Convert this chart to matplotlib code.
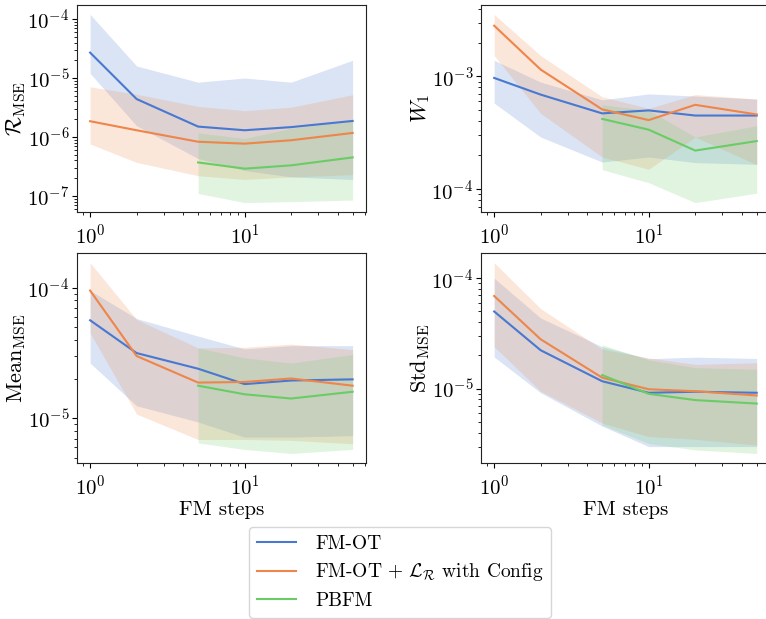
import numpy as np
import matplotlib
matplotlib.use("Agg")
import matplotlib.pyplot as plt

plt.rcParams["font.family"] = "serif"
plt.rcParams["font.serif"] = ["cmr10", "DejaVu Serif"]
plt.rcParams["mathtext.fontset"] = "cm"
plt.rcParams["axes.formatter.use_mathtext"] = True
plt.rcParams["axes.unicode_minus"] = False

steps = [1, 2, 5, 10, 20, 50]
steps_pbfm = [5, 10, 20, 50]

labels = ["FM-OT", r"FM-OT $+\ \mathcal{L}_{\mathcal{R}}$ with Config", "PBFM"]
colors = ["#4878d0", "#ee854a", "#6acc64"]

# R_MSE
r_ot = [2.7e-5, 4.4e-6, 1.5e-6, 1.3e-6, 1.47e-6, 1.87e-6]
r_ot_hi = [1.2e-4, 1.6e-5, 8.5e-6, 1.0e-5, 8.5e-6, 2.0e-5]
r_ot_lo = [1.2e-5, 1.55e-6, 4.3e-7, 2.7e-7, 2.1e-7, 1.9e-7]
r_cfg = [1.85e-6, 1.3e-6, 8.3e-7, 7.7e-7, 8.8e-7, 1.17e-6]
r_cfg_hi = [7.1e-6, 5.3e-6, 3.3e-6, 2.8e-6, 3.2e-6, 5.2e-6]
r_cfg_lo = [7.6e-7, 3.7e-7, 2.2e-7, 1.9e-7, 2.1e-7, 2.3e-7]
r_pb = [3.7e-7, 2.9e-7, 3.3e-7, 4.5e-7]
r_pb_hi = [1.17e-6, 9.4e-7, 1.4e-6, 1.9e-6]
r_pb_lo = [1.1e-7, 7.7e-8, 8.0e-8, 8.5e-8]

# W1
w_ot = [9.7e-4, 6.9e-4, 4.7e-4, 5.0e-4, 4.5e-4, 4.5e-4]
w_ot_hi = [1.39e-3, 8.9e-4, 6.2e-4, 7.0e-4, 6.7e-4, 6.3e-4]
w_ot_lo = [5.8e-4, 2.9e-4, 1.74e-4, 1.93e-4, 1.72e-4, 1.66e-4]
w_cfg = [2.82e-3, 1.15e-3, 5.1e-4, 4.1e-4, 5.6e-4, 4.6e-4]
w_cfg_hi = [3.55e-3, 1.53e-3, 6.6e-4, 5.2e-4, 6.9e-4, 6.3e-4]
w_cfg_lo = [1.53e-3, 4.7e-4, 1.93e-4, 1.5e-4, 2.9e-4, 1.65e-4]
w_pb = [4.2e-4, 3.37e-4, 2.2e-4, 2.67e-4]
w_pb_hi = [5.6e-4, 5.0e-4, 2.9e-4, 3.65e-4]
w_pb_lo = [1.49e-4, 1.14e-4, 7.6e-5, 9.2e-5]

# Mean_MSE
m_ot = [5.63e-5, 3.16e-5, 2.4e-5, 1.83e-5, 1.95e-5, 1.99e-5]
m_ot_hi = [9.5e-5, 5.8e-5, 4.26e-5, 3.4e-5, 3.6e-5, 3.6e-5]
m_ot_lo = [2.65e-5, 1.25e-5, 9.4e-6, 7.2e-6, 7.2e-6, 7.4e-6]
m_cfg = [9.5e-5, 3.0e-5, 1.88e-5, 1.9e-5, 2.02e-5, 1.78e-5]
m_cfg_hi = [1.55e-4, 5.7e-5, 3.46e-5, 3.5e-5, 3.7e-5, 3.36e-5]
m_cfg_lo = [4.5e-5, 1.08e-5, 6.9e-6, 6.9e-6, 6.8e-6, 6.4e-6]
m_pb = [1.78e-5, 1.53e-5, 1.42e-5, 1.6e-5]
m_pb_hi = [3.46e-5, 2.9e-5, 2.65e-5, 3.08e-5]
m_pb_lo = [6.5e-6, 5.8e-6, 5.4e-6, 5.8e-6]

# Std_MSE
s_ot = [5.0e-5, 2.23e-5, 1.17e-5, 9.2e-6, 9.4e-6, 9.2e-6]
s_ot_hi = [1.0e-4, 4.36e-5, 2.4e-5, 1.87e-5, 1.93e-5, 1.88e-5]
s_ot_lo = [1.94e-5, 9.2e-6, 4.6e-6, 3.0e-6, 3.0e-6, 3.0e-6]
s_cfg = [6.9e-5, 2.8e-5, 1.26e-5, 9.9e-6, 9.5e-6, 8.7e-6]
s_cfg_hi = [1.38e-4, 5.3e-5, 2.28e-5, 1.9e-5, 1.66e-5, 1.72e-5]
s_cfg_lo = [2.4e-5, 9.5e-6, 4.9e-6, 3.7e-6, 3.5e-6, 3.1e-6]
s_pb = [1.33e-5, 9.0e-6, 7.9e-6, 7.35e-6]
s_pb_hi = [2.5e-5, 1.82e-5, 1.55e-5, 1.5e-5]
s_pb_lo = [4.7e-6, 3.2e-6, 2.8e-6, 2.6e-6]

panels = [
    (r"$\mathcal{R}_{\mathrm{MSE}}$",
     [(r_ot, r_ot_lo, r_ot_hi), (r_cfg, r_cfg_lo, r_cfg_hi), (r_pb, r_pb_lo, r_pb_hi)]),
    (r"$W_1$",
     [(w_ot, w_ot_lo, w_ot_hi), (w_cfg, w_cfg_lo, w_cfg_hi), (w_pb, w_pb_lo, w_pb_hi)]),
    (r"$\mathrm{Mean}_{\mathrm{MSE}}$",
     [(m_ot, m_ot_lo, m_ot_hi), (m_cfg, m_cfg_lo, m_cfg_hi), (m_pb, m_pb_lo, m_pb_hi)]),
    (r"$\mathrm{Std}_{\mathrm{MSE}}$",
     [(s_ot, s_ot_lo, s_ot_hi), (s_cfg, s_cfg_lo, s_cfg_hi), (s_pb, s_pb_lo, s_pb_hi)]),
]

positions = [
    [0.1005, 0.6575, 0.377, 0.3344],
    [0.628, 0.6575, 0.377, 0.3344],
    [0.1005, 0.252, 0.377, 0.339],
    [0.628, 0.252, 0.377, 0.339],
]

fig = plt.figure(figsize=(7.66, 6.19), dpi=100)
handles = []
for i, ((ylabel, series), pos) in enumerate(zip(panels, positions)):
    ax = fig.add_axes(pos)
    for j, (mid, lo, hi) in enumerate(series):
        x = steps_pbfm if j == 2 else steps
        ax.fill_between(x, lo, hi, color=colors[j], alpha=0.2, linewidth=0)
        ln, = ax.plot(x, mid, color=colors[j], lw=1.5, label=labels[j])
        if i == 0:
            handles.append(ln)
    ax.set_xscale("log")
    ax.set_yscale("log")
    ax.set_ylabel(ylabel, fontsize=16)
    ax.yaxis.set_label_coords(-0.17, 0.5)
    ax.tick_params(axis="y", labelsize=15, pad=2)
    ax.tick_params(axis="x", labelsize=15, pad=5)
    for s in ax.spines.values():
        s.set_color("#222222")
    if i >= 2:
        ax.set_xlabel("FM steps", fontsize=15, labelpad=1)

fig.legend(handles=handles, loc="upper center", bbox_to_anchor=(400 / 766, 1 - 527 / 619),
           borderaxespad=0, fontsize=14, frameon=True, framealpha=0.8,
           labelspacing=0.45, handletextpad=1.0)
fig.savefig("out.png", dpi=100)
